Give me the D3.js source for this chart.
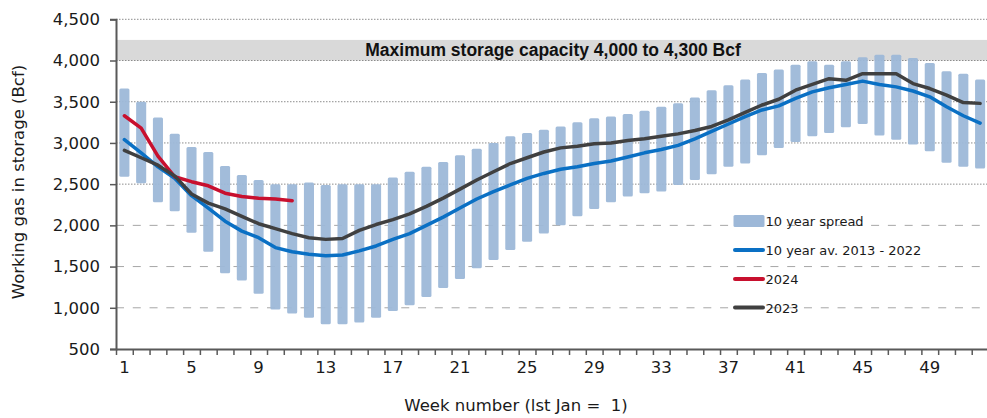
<!DOCTYPE html>
<html><head><meta charset="utf-8">
<script src="https://cdn.jsdelivr.net/npm/d3@7"></script>
<style>
html,body{margin:0;padding:0;background:#fff;}
svg{display:block;}
</style></head>
<body>
<svg id="chart" width="987" height="418"></svg>
<script>
const weeks = d3.range(1, 53);
const spreadHigh = [3660,3500,3310,3110,2950,2890,2720,2610,2550,2500,2500,2520,2490,2500,2500,2500,2580,2650,2710,2770,2850,2930,3000,3080,3120,3160,3200,3250,3300,3320,3350,3390,3440,3480,3550,3640,3700,3770,3850,3890,3950,3990,3950,3990,4040,4070,4070,4030,3970,3870,3840,3770];
const spreadLow = [2590,2510,2280,2170,1910,1680,1420,1330,1170,980,930,880,800,800,820,880,960,1030,1130,1240,1350,1480,1580,1700,1800,1900,2000,2110,2200,2280,2350,2390,2410,2490,2550,2620,2710,2750,2850,2940,3010,3080,3120,3190,3230,3090,3040,2980,2900,2760,2710,2690];
const avg10 = [3040,2880,2710,2570,2360,2210,2050,1930,1850,1730,1680,1650,1630,1640,1690,1750,1830,1900,2000,2100,2210,2320,2410,2490,2570,2630,2680,2710,2750,2780,2830,2880,2920,2970,3050,3140,3230,3320,3400,3450,3540,3620,3670,3710,3750,3710,3680,3630,3560,3440,3330,3240];
const y2023 = [2910,2820,2730,2600,2380,2270,2200,2110,2020,1960,1900,1850,1830,1840,1940,2010,2070,2140,2230,2330,2440,2550,2650,2750,2820,2890,2940,2960,2990,3000,3030,3050,3080,3110,3150,3200,3280,3370,3460,3530,3640,3710,3780,3760,3840,3840,3840,3720,3660,3580,3490,3480];
const y2024 = [3330,3180,2840,2590,2530,2480,2390,2350,2330,2320,2300];
const yTicks = [500,1000,1500,2000,2500,3000,3500,4000,4500];
const xTickLabels = [1,5,9,13,17,21,25,29,33,37,41,45,49];
const capacityBand = [4000, 4250];
const capacityText = "Maximum storage capacity 4,000 to 4,300 Bcf";
const legendItems = [
  {label:"10 year spread", type:"bar", color:"#9db8d8"},
  {label:"10 year av. 2013 - 2022", type:"line", color:"#0a70c4"},
  {label:"2024", type:"line", color:"#c8102e"},
  {label:"2023", type:"line", color:"#404040"}
];

const svg = d3.select("#chart");
const L = 116, R = 988.5, T = 19.3, B = 349;
const font = "'DejaVu Sans', sans-serif";

const x = d3.scaleBand().domain(weeks).range([L, R]).paddingInner(0.4).paddingOuter(0.2);
const xl = d3.scaleLinear().domain([0.5, 52.5]).range([L, R]);
const y = d3.scaleLinear().domain([500, 4500]).range([B, T]);

// capacity band
svg.append("rect").attr("x", L).attr("width", 987 - L)
  .attr("y", y(capacityBand[1])).attr("height", y(capacityBand[0]) - y(capacityBand[1]))
  .attr("fill", "#d9d9d9");

// gridlines
svg.append("g").selectAll("line").data(yTicks.filter(d => d > 500)).join("line")
  .attr("x1", L).attr("x2", 987).attr("y1", d => y(d)).attr("y2", d => y(d))
  .attr("stroke", d => d >= 2500 ? "#8c8c8c" : "#a6a6a6")
  .attr("stroke-width", 1)
  .attr("stroke-dasharray", d => d >= 2500 ? "1.5,1.5" : "8,8.78");

// capacity text
svg.append("text").attr("x", 553).attr("y", y((capacityBand[0]+capacityBand[1])/2) + 6)
  .attr("text-anchor", "middle").attr("font-family", "'Liberation Sans', Arial, sans-serif")
  .attr("font-weight", "bold").attr("font-size", 17.5).attr("fill", "#111").text(capacityText);

// bars
svg.append("g").selectAll("rect").data(weeks).join("rect")
  .attr("x", d => x(d)).attr("width", x.bandwidth())
  .attr("y", (d, i) => y(spreadHigh[i]))
  .attr("height", (d, i) => y(spreadLow[i]) - y(spreadHigh[i]))
  .attr("rx", 1.5).attr("fill", legendItems[0].color).attr("opacity", 0.95);

// lines
const line = d3.line().x((d, i) => x(weeks[i]) + x.bandwidth() / 2).y(d => y(d));
[[avg10, legendItems[1].color], [y2024, legendItems[2].color], [y2023, legendItems[3].color]].forEach(([data, c]) => {
  svg.append("path").datum(data).attr("d", line).attr("fill", "none")
    .attr("stroke", c).attr("stroke-width", 3.5).attr("stroke-linejoin", "round").attr("stroke-linecap", "round");
});

// y axis
const yAxis = svg.append("g").attr("transform", `translate(${L},0)`)
  .call(d3.axisLeft(y).tickValues(yTicks).tickFormat(d3.format(",")).tickSize(6).tickPadding(10));
yAxis.select(".domain").attr("stroke", "#595959").attr("stroke-width", 2);
yAxis.selectAll(".tick line").attr("stroke", "#595959").attr("stroke-width", 1.5);
yAxis.selectAll("text").attr("font-family", font).attr("font-size", 16.5).attr("fill", "#1a1a1a");

// x axis ticks
const xAxisTicks = svg.append("g").attr("transform", `translate(0,${B})`)
  .call(d3.axisBottom(xl).tickValues(d3.range(0.5, 52.5, 1)).tickFormat("").tickSize(6).tickSizeOuter(0));
xAxisTicks.select(".domain").attr("stroke", "#595959").attr("stroke-width", 2);
xAxisTicks.selectAll(".tick line").attr("stroke", "#595959").attr("stroke-width", 1.5);

const xAxisLabels = svg.append("g").attr("transform", `translate(0,${B})`)
  .call(d3.axisBottom(x).tickValues(xTickLabels).tickSize(0).tickPadding(12));
xAxisLabels.select(".domain").remove();
xAxisLabels.selectAll("text").attr("font-family", font).attr("font-size", 16.5).attr("fill", "#1a1a1a");

// axis titles
svg.append("text").attr("transform", "translate(24,182) rotate(-90)").attr("text-anchor", "middle")
  .attr("font-family", font).attr("font-size", 16.5).attr("fill", "#1a1a1a").text("Working gas in storage (Bcf)");
svg.append("text").attr("x", 516).attr("y", 411).attr("text-anchor", "middle")
  .attr("font-family", font).attr("font-size", 16.5).attr("fill", "#1a1a1a").attr("xml:space", "preserve")
  .style("white-space", "pre").text("Week number (lst Jan =  1)");

// legend
const lg = svg.append("g");
const rowY = [221, 250, 279, 307.5];
legendItems.forEach((it, i) => {
  const cy = rowY[i];
  if (it.type === "bar") {
    lg.append("rect").attr("x", 733.5).attr("y", cy - 6).attr("width", 31).attr("height", 12).attr("rx", 1.5).attr("fill", it.color);
  } else {
    lg.append("line").attr("x1", 735).attr("x2", 763).attr("y1", cy).attr("y2", cy)
      .attr("stroke", it.color).attr("stroke-width", 4).attr("stroke-linecap", "round");
  }
  lg.append("text").attr("x", 765.5).attr("y", cy + 5).attr("font-family", font).attr("font-size", 13)
    .attr("fill", "#1a1a1a").text(it.label);
});
</script>
</body></html>
